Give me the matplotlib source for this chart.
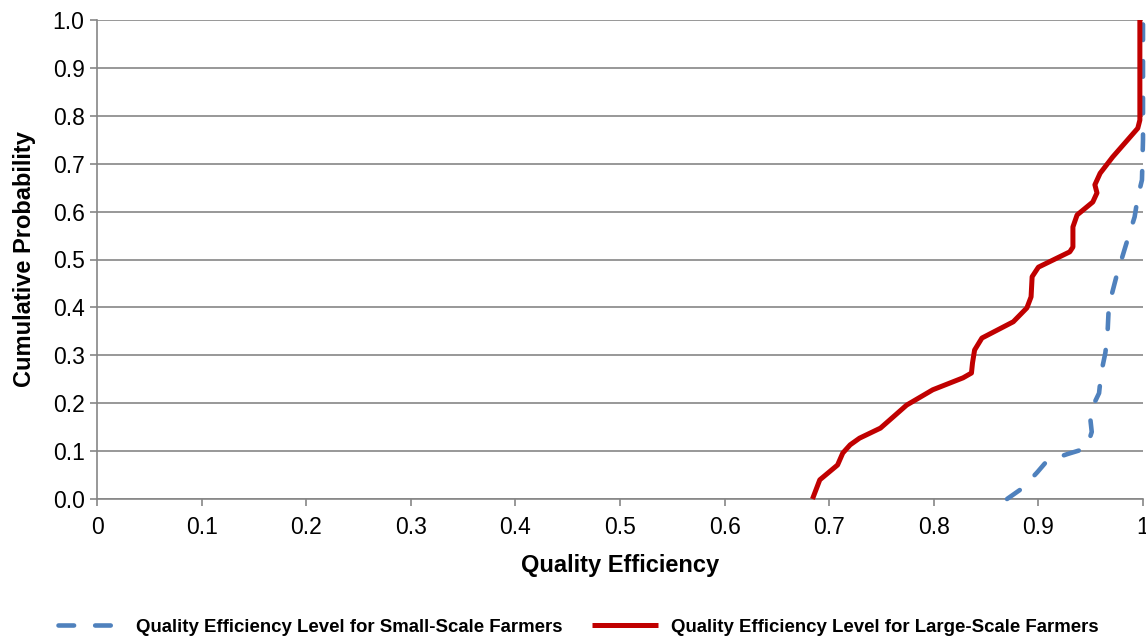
import matplotlib.pyplot as plt
import numpy as np

plt.rcParams['font.family'] = ['Liberation Sans', 'DejaVu Sans']

# (efficiency, cumulative probability)
small_x = [0.870, 0.885, 0.899, 0.908, 0.928, 0.946, 0.951, 0.949, 0.958, 0.960,
           0.964, 0.966, 0.967, 0.970, 0.975, 0.986, 0.992, 0.995, 0.999, 1.000, 1.000]
small_y = [0.000, 0.023, 0.056, 0.079, 0.094, 0.106, 0.140, 0.180, 0.221, 0.263,
           0.305, 0.342, 0.388, 0.426, 0.468, 0.547, 0.589, 0.630, 0.666, 0.750, 1.000]

large_x = [0.684, 0.691, 0.708, 0.713, 0.720, 0.729, 0.749, 0.761, 0.774, 0.799,
           0.828, 0.836, 0.837, 0.839, 0.846, 0.876, 0.889, 0.893, 0.894, 0.900,
           0.930, 0.933, 0.933, 0.937, 0.952, 0.956, 0.954, 0.959, 0.971, 0.985,
           0.995, 0.997, 0.997]
large_y = [0.000, 0.040, 0.071, 0.096, 0.113, 0.127, 0.148, 0.171, 0.196, 0.228,
           0.253, 0.263, 0.284, 0.311, 0.336, 0.370, 0.399, 0.422, 0.464, 0.484,
           0.516, 0.526, 0.568, 0.593, 0.620, 0.639, 0.656, 0.680, 0.714, 0.749,
           0.774, 0.791, 1.000]

x_ticks = [0, 0.1, 0.2, 0.3, 0.4, 0.5, 0.6, 0.7, 0.8, 0.9, 1]
x_labels = ['0', '0.1', '0.2', '0.3', '0.4', '0.5', '0.6', '0.7', '0.8', '0.9', '1']
y_ticks = [0.0, 0.1, 0.2, 0.3, 0.4, 0.5, 0.6, 0.7, 0.8, 0.9, 1.0]

fig = plt.figure(figsize=(11.46, 6.39), dpi=100)
ax = fig.add_axes([97 / 1146, 140 / 639, 1046 / 1146, 479 / 639])

ax.plot(small_x, small_y, color='#4F81BD', linewidth=3.3, linestyle=(0, (3.4, 4.6)),
        dash_capstyle='round', solid_capstyle='round', clip_on=False,
        label='Quality Efficiency Level for Small-Scale Farmers', zorder=3)
ax.plot(large_x, large_y, color='#C00000', linewidth=3.6, solid_capstyle='butt',
        solid_joinstyle='round', clip_on=False,
        label='Quality Efficiency Level for Large-Scale Farmers', zorder=4)

ax.set_xlim(0, 1)
ax.set_ylim(0, 1)
ax.set_xticks(x_ticks)
ax.set_xticklabels(x_labels, fontsize=16.5)
ax.set_yticks(y_ticks)
ax.set_yticklabels(['%.1f' % v for v in y_ticks], fontsize=16.5)
ax.tick_params(axis='both', direction='out', length=5, color='#868686', width=1.2, pad=4)
ax.tick_params(axis='x', pad=7)

for s in ['top', 'right']:
    ax.spines[s].set_visible(False)
for s in ['left', 'bottom']:
    ax.spines[s].set_color('#868686')
    ax.spines[s].set_linewidth(1.2)

ax.yaxis.grid(True, color='#868686', linewidth=1.2)
ax.set_axisbelow(True)

ax.set_xlabel('Quality Efficiency', fontsize=17, fontweight='bold', labelpad=11)
ax.set_ylabel('Cumulative Probability', fontsize=17, fontweight='bold', labelpad=12)

ax.legend(loc='center', bbox_to_anchor=(0.46, -0.268), ncol=2, frameon=False,
          prop={'size': 13.4, 'weight': 'bold'}, handlelength=3.5, columnspacing=1.6,
          handletextpad=0.7)

fig.savefig('out.png', dpi=100, facecolor='white')
